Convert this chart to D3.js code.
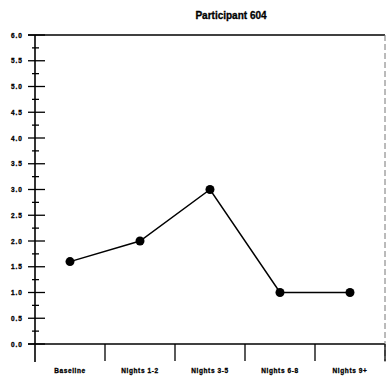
<!DOCTYPE html>
<html><head><meta charset="utf-8">
<script src="https://cdn.jsdelivr.net/npm/d3@7"></script>
<style>body{margin:0;background:#fff}svg{display:block}</style>
</head><body>
<script>
const title = "Participant 604";
const categories = ["Baseline", "Nights 1-2", "Nights 3-5", "Nights 6-8", "Nights 9+"];
const values = [1.6, 2.0, 3.0, 1.0, 1.0];
const yTicks = ["0.0","0.5","1.0","1.5","2.0","2.5","3.0","3.5","4.0","4.5","5.0","5.5","6.0"];

const W = 387, H = 379;
const mLeft = 35, mRight = 385, mTop = 35, mBottom = 344;
const svg = d3.select("body").append("svg").attr("width", W).attr("height", H);

const x = d3.scaleBand().domain(categories).range([mLeft, mRight]);
const y = d3.scaleLinear().domain([0, 6]).range([mBottom, mTop]);
const FONT = "Liberation Sans, Arial, sans-serif";

svg.append("text").attr("x", 231).attr("y", 19).attr("text-anchor", "middle")
  .attr("font-family", FONT).attr("font-weight", "bold").attr("stroke", "#000").attr("stroke-width", 0.3)
  .attr("font-size", 10).text(title);

// frame
svg.append("line").attr("x1", 28).attr("x2", mRight).attr("y1", y(6)).attr("y2", y(6))
  .attr("stroke", "#000").attr("stroke-width", 1.6);
svg.append("line").attr("x1", 28).attr("x2", mRight).attr("y1", y(0)).attr("y2", y(0))
  .attr("stroke", "#000").attr("stroke-width", 1.6);
svg.append("line").attr("x1", mRight).attr("x2", mRight).attr("y1", y(6)).attr("y2", 362)
  .attr("stroke", "#777").attr("stroke-width", 1).attr("stroke-dasharray", "6,3");

// y axis
const yAxis = d3.axisLeft(y).tickValues(yTicks.map(Number)).tickFormat((d, i) => yTicks[i]).tickSize(0).tickPadding(12);
const ya = svg.append("g").attr("transform", `translate(${mLeft},0)`).call(yAxis);
ya.select(".domain").remove();
ya.selectAll("text").attr("font-family", FONT).attr("letter-spacing", 1).attr("stroke", "#000").attr("stroke-width", 0.3)
  .attr("font-weight", "bold").attr("font-size", 6.5).attr("fill", "#000");
svg.append("line").attr("x1", mLeft).attr("x2", mLeft).attr("y1", y(6)).attr("y2", 362)
  .attr("stroke", "#000").attr("stroke-width", 1.6);
svg.selectAll("line.maj").data(yTicks.map(Number)).join("line").attr("class", "maj")
  .attr("x1", 28).attr("x2", 45).attr("y1", d => y(d)).attr("y2", d => y(d))
  .attr("stroke", "#000").attr("stroke-width", 1.3);
svg.selectAll("line.min").data(d3.range(0.25, 6, 0.5)).join("line").attr("class", "min")
  .attr("x1", 32).attr("x2", 39).attr("y1", d => y(d)).attr("y2", d => y(d))
  .attr("stroke", "#000").attr("stroke-width", 1.3);

// x axis dividers and labels
svg.selectAll("line.dv").data(categories).join("line").attr("class", "dv")
  .attr("x1", d => x(d) + x.bandwidth()).attr("x2", d => x(d) + x.bandwidth())
  .attr("y1", mBottom).attr("y2", 361).attr("stroke", "#000").attr("stroke-width", 1.3);
svg.selectAll("text.xl").data(categories).join("text").attr("class", "xl")
  .attr("x", d => x(d) + x.bandwidth() / 2).attr("y", 373).attr("text-anchor", "middle")
  .attr("font-family", FONT).attr("font-weight", "bold").attr("letter-spacing", 0.6)
  .attr("stroke", "#000").attr("stroke-width", 0.3)
  .attr("font-size", 6.5).text(d => d);

// line + markers
const cx = (d, i) => x(categories[i]) + x.bandwidth() / 2;
const line = d3.line().x(cx).y(d => y(d));
svg.append("path").datum(values).attr("d", line).attr("fill", "none")
  .attr("stroke", "#000").attr("stroke-width", 1.5);
svg.selectAll("circle.pt").data(values).join("circle").attr("class", "pt")
  .attr("cx", cx).attr("cy", d => y(d))
  .attr("r", 4.5).attr("fill", "#000");
</script>
</body></html>
